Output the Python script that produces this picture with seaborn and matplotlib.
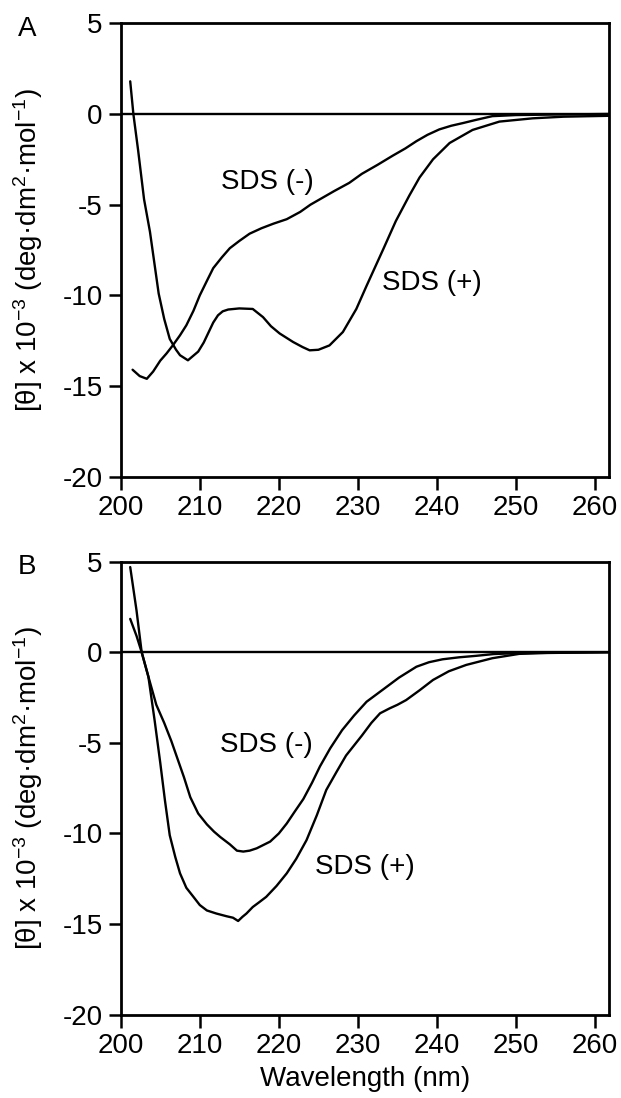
import seaborn as sns
from matplotlib import pyplot as plt

# panel A, SDS (-)
a_minus_x = [201.5, 202.4, 203.3, 204.1, 205.0, 205.8, 206.6, 207.5, 208.3, 209.2, 210.0, 210.9,
             211.7, 212.8, 213.8, 215.0, 216.3, 217.8, 219.3, 221.0, 222.7, 224.0, 225.2, 227.0,
             228.9, 230.5, 232.5, 234.4, 236.0, 237.4, 238.8, 240.3, 241.8, 243.3, 244.9, 247.0,
             250.0, 255.0, 261.8]
a_minus_y = [-14.1, -14.45, -14.6, -14.2, -13.6, -13.2, -12.75, -12.2, -11.65, -10.85, -10.0, -9.2,
             -8.5, -7.9, -7.4, -7.0, -6.6, -6.3, -6.05, -5.8, -5.4, -5.0, -4.7, -4.25,
             -3.8, -3.3, -2.8, -2.3, -1.9, -1.5, -1.15, -0.85, -0.65, -0.5, -0.33, -0.12,
             -0.06, -0.03, 0.0]

# panel A, SDS (+)
a_plus_x = [201.2, 201.6, 202.2, 202.95, 203.7, 204.8, 205.5, 206.2, 207.0, 207.5, 208.5, 209.8,
            210.5, 211.1, 211.7, 212.3, 212.9, 213.6, 215.0, 216.7, 218.0, 219.0, 220.1, 221.8,
            223.0, 223.9, 225.0, 226.4, 228.1, 229.8, 231.1, 233.2, 234.8, 236.5, 237.8, 239.5,
            241.6, 244.5, 247.9, 252.1, 256.0, 261.8]
a_plus_y = [1.8, 0.0, -2.0, -4.7, -6.5, -9.9, -11.3, -12.4, -13.0, -13.3, -13.58, -13.1,
            -12.6, -12.05, -11.5, -11.1, -10.88, -10.78, -10.72, -10.75, -11.2, -11.7, -12.1, -12.57,
            -12.85, -13.03, -13.0, -12.76, -12.02, -10.75, -9.47, -7.46, -5.9, -4.5, -3.5, -2.5,
            -1.6, -0.88, -0.42, -0.24, -0.15, -0.1]

# panel B, SDS (-)
b_minus_x = [201.2, 202.0, 202.65, 203.5, 204.5, 205.5, 206.4, 207.2, 208.0, 208.8, 209.8, 210.9,
             211.8, 212.6, 213.8, 214.7, 215.5, 216.3, 217.2, 218.9, 220.0, 221.0, 222.0, 223.1,
             224.2, 225.2, 226.5, 228.0, 229.5, 231.1, 233.2, 235.2, 237.4, 239.0, 240.7, 242.8,
             244.9, 247.2, 249.6, 253.0, 261.8]
b_minus_y = [1.84, 0.9, 0.0, -1.35, -2.9, -3.9, -4.9, -5.9, -6.9, -8.0, -8.9, -9.5,
             -9.9, -10.2, -10.6, -10.95, -11.0, -10.95, -10.82, -10.45, -10.0, -9.45, -8.8, -8.1,
             -7.2, -6.3, -5.3, -4.3, -3.5, -2.73, -2.05, -1.4, -0.8, -0.55, -0.39, -0.28,
             -0.2, -0.1, -0.06, -0.03, 0.0]

# panel B, SDS (+)
b_plus_x = [201.2, 202.0, 202.65, 203.5, 204.3, 205.0, 205.6, 206.2, 206.9, 207.5, 208.3, 209.2,
            210.0, 210.9, 212.1, 213.4, 214.2, 214.85, 215.4, 215.9, 216.7, 217.5, 218.4, 219.7,
            221.0, 222.2, 223.5, 224.8, 226.0, 227.3, 228.5, 230.5, 231.7, 232.8, 234.0, 235.0,
            236.1, 237.8, 239.5, 241.5, 243.7, 247.0, 250.4, 254.0, 261.8]
b_plus_y = [4.7, 2.3, 0.0, -1.35, -3.8, -6.1, -8.2, -10.1, -11.3, -12.2, -13.0, -13.5,
            -13.95, -14.25, -14.42, -14.57, -14.65, -14.83, -14.6, -14.42, -14.06, -13.8, -13.5, -12.9,
            -12.2, -11.4, -10.37, -9.0, -7.6, -6.6, -5.7, -4.6, -3.9, -3.37, -3.1, -2.9,
            -2.64, -2.1, -1.53, -1.05, -0.7, -0.33, -0.09, -0.04, 0.0]

x_ticks = [200, 210, 220, 230, 240, 250, 260]
y_ticks = [5, 0, -5, -10, -15, -20]
y_tick_labels = ['5', '0', '-5', '-10', '-15', '-20']

sns.set_style('ticks')
plt.rcParams['font.family'] = ['Liberation Sans', 'DejaVu Sans']
plt.rcParams['mathtext.fontset'] = 'custom'
plt.rcParams['mathtext.rm'] = 'Liberation Sans'
plt.rcParams['mathtext.it'] = 'Liberation Sans'
plt.rcParams['font.size'] = 20
for k in ['text.color', 'axes.labelcolor', 'xtick.color', 'ytick.color', 'axes.edgecolor']:
    plt.rcParams[k] = 'black'

fig = plt.figure(figsize=(6.21, 10.98), dpi=100)
ax_a = fig.add_axes([0.1944, 0.5658, 0.7868, 0.4130])
ax_b = fig.add_axes([0.1944, 0.0759, 0.7868, 0.4126])

ylabel = r'[θ] x 10$^{\mathregular{-3}}$ (deg·dm$^{\mathregular{2}}$·mol$^{\mathregular{-1}}$)'

panels = [
    (ax_a, a_minus_x, a_minus_y, a_plus_x, a_plus_y, (212.7, -3.75), (233.0, -9.33)),
    (ax_b, b_minus_x, b_minus_y, b_plus_x, b_plus_y, (212.5, -5.12), (224.6, -11.83)),
]

for ax, mx, my, px, py, pos_minus, pos_plus in panels:
    ax.axhline(0, color='black', lw=1.7)
    sns.lineplot(x=mx, y=my, ax=ax, color='black', lw=1.7, sort=False, estimator=None)
    sns.lineplot(x=px, y=py, ax=ax, color='black', lw=1.7, sort=False, estimator=None)
    ax.text(pos_minus[0], pos_minus[1], 'SDS (-)', ha='left', va='center', fontsize=20)
    ax.text(pos_plus[0], pos_plus[1], 'SDS (+)', ha='left', va='center', fontsize=20)

    ax.set_xlim(200, 261.8)
    ax.set_ylim(-20, 5)
    ax.set_xticks(x_ticks)
    ax.set_yticks(y_ticks, y_tick_labels)
    ax.tick_params(direction='out', length=9, width=1.8, pad=4, labelsize=20, color='black')
    for s in ax.spines.values():
        s.set_linewidth(2.0)
        s.set_color('black')
    ax.set_ylabel(ylabel, fontsize=20)
    ax.yaxis.set_label_coords(-0.155, 0.5)
    ax.set_xlabel('')

ax_b.set_xlabel('Wavelength (nm)', fontsize=20, labelpad=5)

fig.text(18 / 621, 1 - 16 / 1098, 'A', ha='left', va='top', fontsize=20)
fig.text(18 / 621, 1 - 554 / 1098, 'B', ha='left', va='top', fontsize=20)

fig.savefig('out.png', dpi=100)
